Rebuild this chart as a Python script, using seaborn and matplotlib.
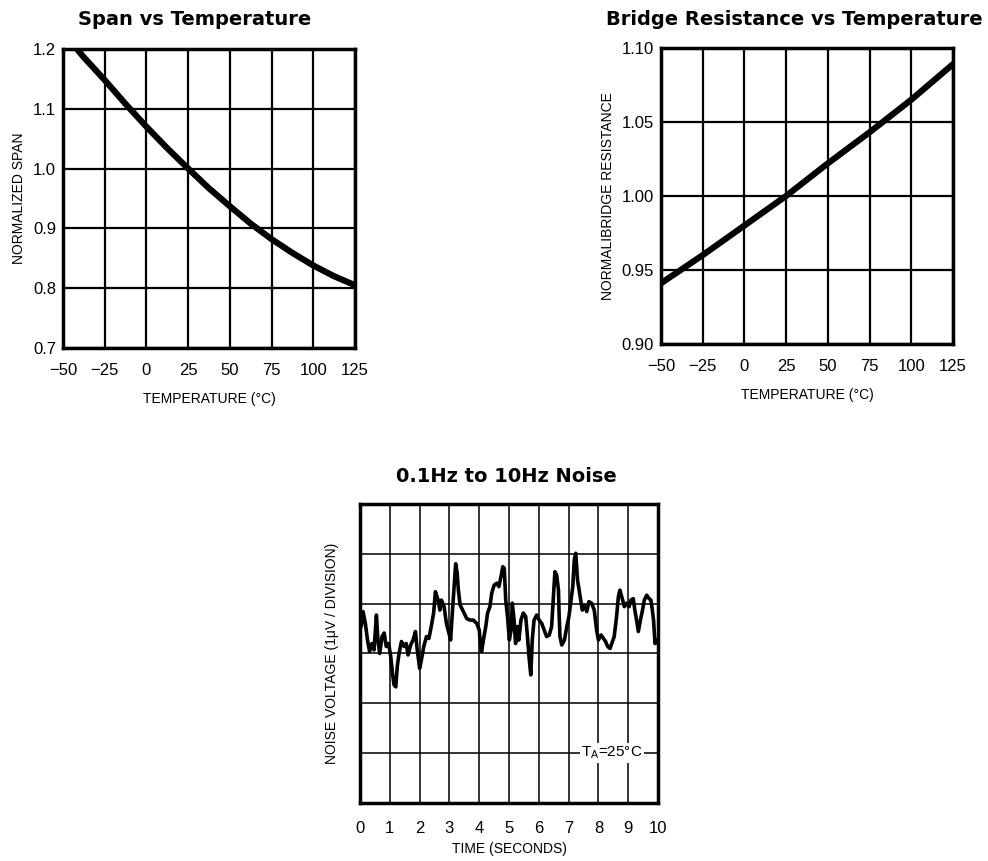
################################################################################
# Datasheet curves: span, bridge resistance, 0.1Hz-10Hz noise
################################################################################

import numpy as np
import pandas as pd
import seaborn as sns
import matplotlib.pyplot as plt

sns.set_theme(style='white')
plt.rcParams['font.family'] = ['Liberation Sans', 'DejaVu Sans']
plt.rcParams['mathtext.fontset'] = 'custom'
plt.rcParams['mathtext.rm'] = 'Liberation Sans'
plt.rcParams.update({'text.color': 'black', 'axes.labelcolor': 'black',
                     'xtick.color': 'black', 'ytick.color': 'black'})

################################################################################
# data

temp_span = [-50, -37.5, -25, -12.5, 0, 12.5, 25, 37.5, 50, 62.5, 75, 87.5, 100, 112.5, 125]
span = [1.228, 1.186, 1.148, 1.108, 1.07, 1.034, 1.0, 0.967, 0.937, 0.908, 0.882, 0.859, 0.838, 0.820, 0.805]

temp_res = [-50, -25, 0, 25, 50, 75, 100, 125]
bridge_res = [0.941, 0.960, 0.980, 1.0, 1.022, 1.043, 1.065, 1.089]

# noise trace, seconds / microvolts (one grid division = 1 uV)
time_s = [0.00, 0.04, 0.10, 0.18, 0.25, 0.32, 0.40, 0.47, 0.55, 0.60, 0.66, 0.74, 0.81, 0.88,
          0.96, 1.03, 1.09, 1.14, 1.20, 1.25, 1.31, 1.39, 1.48, 1.55, 1.61, 1.70, 1.78, 1.86,
          1.92, 2.00, 2.06, 2.14, 2.23, 2.31, 2.39, 2.47, 2.53, 2.62, 2.68, 2.73, 2.82, 2.90,
          2.97, 3.04, 3.10, 3.15, 3.21, 3.26, 3.30, 3.36, 3.47, 3.58, 3.69, 3.80, 3.92, 4.00,
          4.05, 4.08, 4.14, 4.22, 4.28, 4.36, 4.42, 4.50, 4.59, 4.66, 4.73, 4.79, 4.84, 4.89,
          4.95, 5.01, 5.07, 5.11, 5.17, 5.22, 5.28, 5.33, 5.40, 5.48, 5.56, 5.61, 5.67, 5.73,
          5.78, 5.84, 5.93, 6.01, 6.10, 6.18, 6.26, 6.35, 6.43, 6.49, 6.54, 6.60, 6.66, 6.68,
          6.71, 6.77, 6.86, 6.94, 7.01, 7.08, 7.14, 7.19, 7.24, 7.30, 7.38, 7.46, 7.53, 7.61,
          7.68, 7.77, 7.86, 7.94, 8.00, 8.09, 8.17, 8.24, 8.31, 8.39, 8.47, 8.53, 8.61, 8.67,
          8.72, 8.80, 8.87, 8.95, 9.03, 9.09, 9.17, 9.23, 9.28, 9.34, 9.41, 9.48, 9.54, 9.62,
          9.70, 9.76, 9.81, 9.85, 9.90, 9.95, 10.0]
noise_uv = [3.60, 3.54, 3.84, 3.60, 3.27, 3.04, 3.20, 3.07, 3.77, 3.27, 3.00, 3.34, 3.41, 3.14,
            3.20, 2.94, 2.60, 2.37, 2.33, 2.74, 3.00, 3.24, 3.14, 3.20, 2.97, 3.17, 3.27, 3.44,
            3.07, 2.70, 2.87, 3.14, 3.34, 3.30, 3.54, 3.81, 4.24, 4.07, 3.87, 4.07, 3.94, 3.60,
            3.44, 3.27, 3.84, 4.27, 4.80, 4.61, 4.27, 3.97, 3.84, 3.70, 3.67, 3.67, 3.60, 3.47,
            3.13, 3.04, 3.27, 3.54, 3.81, 3.94, 4.21, 4.37, 4.41, 4.34, 4.54, 4.74, 4.71, 4.07,
            3.74, 3.27, 3.47, 4.01, 3.67, 3.20, 3.54, 3.27, 3.67, 3.81, 3.74, 3.40, 2.94, 2.57,
            3.27, 3.67, 3.77, 3.67, 3.60, 3.47, 3.34, 3.37, 3.54, 4.14, 4.64, 4.57, 4.27, 3.81,
            3.34, 3.17, 3.27, 3.54, 3.74, 4.07, 4.34, 4.88, 5.01, 4.47, 4.17, 3.87, 3.97, 3.84,
            4.04, 4.01, 3.87, 3.47, 3.27, 3.37, 3.30, 3.24, 3.14, 3.10, 3.24, 3.34, 3.74, 4.14,
            4.27, 4.10, 3.94, 4.01, 3.94, 4.07, 4.10, 3.84, 3.67, 3.44, 3.67, 3.87, 4.07, 4.17,
            4.10, 4.07, 3.87, 3.67, 3.20, 3.27, 3.20]

temp_ticks = [-50, -25, 0, 25, 50, 75, 100, 125]
temp_labels = ['\u221250', '\u221225', '0', '25', '50', '75', '100', '125']

df_span = pd.DataFrame({'temp': temp_span, 'span': span})
df_res = pd.DataFrame({'temp': temp_res, 'res': bridge_res})
df_noise = pd.DataFrame({'t': time_s, 'v': noise_uv})

################################################################################
# plot

fig = plt.figure(figsize=(9.88, 8.61), dpi=100)
ax1 = fig.add_axes([0.0638, 0.5958, 0.2955, 0.3473])
ax2 = fig.add_axes([0.669, 0.6005, 0.2955, 0.3438])
ax3 = fig.add_axes([0.3644, 0.0674, 0.3016, 0.3473])

title_kw = dict(fontsize=14, fontweight='bold', family='DejaVu Sans')
lab_kw = dict(fontsize=10)

def style_axes(ax, lw_grid=1.6):
    ax.grid(True, color='black', lw=lw_grid)
    for sp in ax.spines.values():
        sp.set_color('black')
        sp.set_linewidth(2.5)
    ax.tick_params(length=0, labelsize=12)
    ax.tick_params(axis='x', pad=11)
    ax.tick_params(axis='y', pad=5)

# Span vs Temperature
sns.lineplot(df_span, x='temp', y='span', color='black', lw=4.5, ax=ax1)
ax1.set_xlim(-50, 125)
ax1.set_ylim(0.7, 1.2)
ax1.set_xticks(temp_ticks)
ax1.set_xticklabels(temp_labels)
ax1.set_yticks([0.7, 0.8, 0.9, 1.0, 1.1, 1.2])
ax1.set_yticklabels(['0.7', '0.8', '0.9', '1.0', '1.1', '1.2'])
style_axes(ax1)
ax1.set_xlabel('TEMPERATURE (°C)', labelpad=10, **lab_kw)
ax1.set_ylabel('NORMALIZED SPAN', labelpad=5, **lab_kw)
fig.text(0.197, 0.977, 'Span vs Temperature', ha='center', va='center', **title_kw)

# Bridge Resistance vs Temperature
sns.lineplot(df_res, x='temp', y='res', color='black', lw=4.5, ax=ax2)
ax2.set_xlim(-50, 125)
ax2.set_ylim(0.90, 1.10)
ax2.set_xticks(temp_ticks)
ax2.set_xticklabels(temp_labels)
ax2.set_yticks([0.90, 0.95, 1.00, 1.05, 1.10])
ax2.set_yticklabels(['0.90', '0.95', '1.00', '1.05', '1.10'])
style_axes(ax2)
ax2.set_xlabel('TEMPERATURE (°C)', labelpad=10, **lab_kw)
ax2.set_ylabel('NORMALIBRIDGE RESISTANCE', labelpad=5, **lab_kw)
fig.text(0.804, 0.977, 'Bridge Resistance vs Temperature', ha='center', va='center', **title_kw)

# 0.1Hz to 10Hz Noise
sns.lineplot(df_noise, x='t', y='v', color='black', lw=2.6, ax=ax3, zorder=3)
ax3.set_xlim(0, 10)
ax3.set_ylim(0, 6)
ax3.set_xticks(range(11))
ax3.set_yticks(range(7))
ax3.set_yticklabels([])
style_axes(ax3, lw_grid=1.1)
ax3.tick_params(axis='x', pad=13)
ax3.set_xlabel('TIME (SECONDS)', labelpad=4, **lab_kw)
ax3.set_ylabel('NOISE VOLTAGE (1\u03bcV / DIVISION)', labelpad=10, **lab_kw)
ax3.text(8.45, 1.0, r'T$_\mathregular{A}$=25°C', ha='center', va='center', fontsize=11,
         bbox=dict(facecolor='white', edgecolor='none', pad=1), zorder=4)
fig.text(0.513, 0.446, '0.1Hz to 10Hz Noise', ha='center', va='center', **title_kw)

fig.savefig('out.png', dpi=100)
